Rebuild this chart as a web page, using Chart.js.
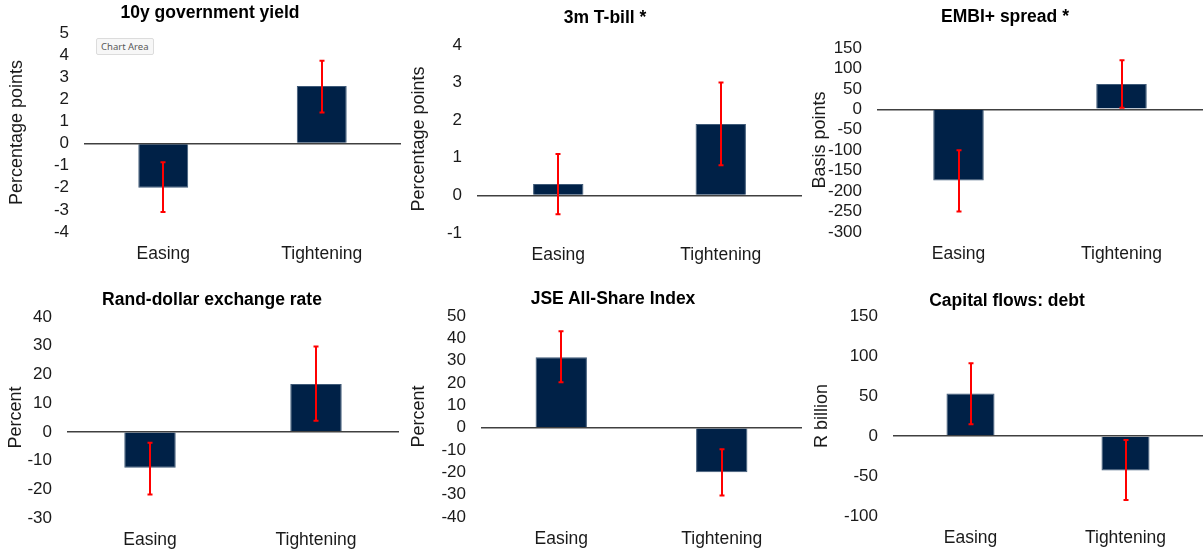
<!DOCTYPE html>
<html>
<head>
<meta charset="utf-8">
<title>Asset price responses to monetary policy cycles</title>
<script src="https://cdn.jsdelivr.net/npm/chart.js@4.4.1/dist/chart.umd.min.js"></script>
<style>
  html, body { margin: 0; padding: 0; background: #ffffff; }
  body { width: 1203px; height: 552px; position: relative; overflow: hidden;
         font-family: "Liberation Sans", Arial, sans-serif; }
  canvas { position: absolute; }
  .title { position: absolute; transform: translate(-50%, -50%); white-space: nowrap;
           font-weight: bold; font-size: 17.5px; color: #000; }
  .tip { position: absolute; left: 96px; top: 38px; padding: 1px 4px; z-index: 5;
         font-family: "Noto Sans", sans-serif; font-size: 9.5px; color: #595959;
         background: #f7f7f7; border: 1px solid #dcdcdc; border-radius: 2px; }
</style>
</head>
<body>
<div class="tip">Chart Area</div>
<script>
// Shared categories
const categories = ['Easing', 'Tightening'];

// 10y government yield (percentage points)
const yieldTicks = [-4, -3, -2, -1, 0, 1, 2, 3, 4, 5];
const yieldValues = [-2.0, 2.6];
const yieldLow = [-3.1, 1.4];
const yieldHigh = [-0.85, 3.75];

// 3m T-bill (percentage points)
const tbillTicks = [-1, 0, 1, 2, 3, 4];
const tbillValues = [0.3, 1.9];
const tbillLow = [-0.5, 0.8];
const tbillHigh = [1.1, 3.0];

// EMBI+ spread (basis points)
const embiTicks = [-300, -250, -200, -150, -100, -50, 0, 50, 100, 150];
const embiValues = [-174, 62];
const embiLow = [-250, 4];
const embiHigh = [-100, 120];

// Rand-dollar exchange rate (percent)
const randTicks = [-30, -20, -10, 0, 10, 20, 30, 40];
const randValues = [-12.5, 16.7];
const randLow = [-21.8, 3.9];
const randHigh = [-3.8, 29.7];

// JSE All-Share Index (percent)
const jseTicks = [-40, -30, -20, -10, 0, 10, 20, 30, 40, 50];
const jseValues = [31.5, -20.0];
const jseLow = [20.3, -30.4];
const jseHigh = [43.2, -9.7];

// Capital flows: debt (R billion)
const flowTicks = [-100, -50, 0, 50, 100, 150];
const flowValues = [53, -43];
const flowLow = [14.6, -80];
const flowHigh = [91, -5];

const panels = [
  { title: '10y government yield', unit: 'Percentage points', ticks: yieldTicks, values: yieldValues, low: yieldLow, high: yieldHigh },
  { title: '3m T-bill *', unit: 'Percentage points', ticks: tbillTicks, values: tbillValues, low: tbillLow, high: tbillHigh },
  { title: 'EMBI+ spread *', unit: 'Basis points', ticks: embiTicks, values: embiValues, low: embiLow, high: embiHigh },
  { title: 'Rand-dollar exchange rate', unit: 'Percent', ticks: randTicks, values: randValues, low: randLow, high: randHigh },
  { title: 'JSE All-Share Index', unit: 'Percent', ticks: jseTicks, values: jseValues, low: jseLow, high: jseHigh },
  { title: 'Capital flows: debt', unit: 'R billion', ticks: flowTicks, values: flowValues, low: flowLow, high: flowHigh }
];

// Page placement of each small chart: canvas box, plot box edges, title centre
const frames = [
  { x0: 0,   y0: 0,   h: 276, left: 84,  right: 401,  top: 33,  bottom: 232, tx: 210,  ty: 12,  unitPad: 6.3,  bar: 0.315 },
  { x0: 400, y0: 0,   h: 276, left: 477, right: 802,  top: 45,  bottom: 233, tx: 605,  ty: 17,  unitPad: 7.8,  bar: 0.31 },
  { x0: 800, y0: 0,   h: 276, left: 877, right: 1203, top: 48,  bottom: 232, tx: 1005, ty: 16,  unitPad: 9.0,  bar: 0.31 },
  { x0: 0,   y0: 270, h: 282, left: 67,  right: 399,  top: 317, bottom: 518, tx: 212,  ty: 299, unitPad: 5.6,  bar: 0.31 },
  { x0: 400, y0: 270, h: 282, left: 481, right: 802,  top: 316, bottom: 517, tx: 613,  ty: 298, unitPad: 8.0,  bar: 0.32 },
  { x0: 800, y0: 270, h: 282, left: 893, right: 1203, top: 316, bottom: 516, tx: 1007, ty: 300, unitPad: 11.5, bar: 0.31 }
];

const XAXIS_H = 34;

// Red whiskers from each dataset's errLow / errHigh arrays
const errorBars = {
  id: 'errorBars',
  afterDatasetsDraw(chart) {
    const { ctx } = chart;
    const yScale = chart.scales.y;
    chart.data.datasets.forEach((ds, di) => {
      const meta = chart.getDatasetMeta(di);
      meta.data.forEach((bar, i) => {
        const yLo = yScale.getPixelForValue(ds.errLow[i]);
        const yHi = yScale.getPixelForValue(ds.errHigh[i]);
        const x = Math.round(bar.x);
        const cap = 2.5;
        ctx.save();
        ctx.strokeStyle = '#ff0000';
        ctx.lineWidth = 2;
        ctx.beginPath();
        ctx.moveTo(x, yLo); ctx.lineTo(x, yHi);
        ctx.moveTo(x - cap, yLo); ctx.lineTo(x + cap, yLo);
        ctx.moveTo(x - cap, yHi); ctx.lineTo(x + cap, yHi);
        ctx.stroke();
        ctx.restore();
      });
    });
  }
};

panels.forEach((p, k) => {
  const f = frames[k];
  const canvas = document.createElement('canvas');
  const w = f.right - f.x0;
  canvas.width = w;
  canvas.height = f.h;
  canvas.style.left = f.x0 + 'px';
  canvas.style.top = f.y0 + 'px';
  canvas.style.width = w + 'px';
  canvas.style.height = f.h + 'px';
  document.body.appendChild(canvas);

  const t = document.createElement('div');
  t.className = 'title';
  t.textContent = p.title;
  t.style.left = f.tx + 'px';
  t.style.top = f.ty + 'px';
  document.body.appendChild(t);

  const tickMin = p.ticks[0];
  const tickMax = p.ticks[p.ticks.length - 1];

  new Chart(canvas, {
    type: 'bar',
    data: {
      labels: categories,
      datasets: [{
        data: p.values,
        errLow: p.low,
        errHigh: p.high,
        backgroundColor: '#002147',
        borderColor: '#3f5a78',
        borderWidth: 1,
        barPercentage: 1,
        categoryPercentage: f.bar
      }]
    },
    options: {
      responsive: false,
      animation: false,
      events: [],
      layout: {
        padding: {
          left: 0,
          right: 0,
          top: f.top - f.y0,
          bottom: f.h - (f.bottom - f.y0) - XAXIS_H
        }
      },
      plugins: { legend: { display: false }, tooltip: { enabled: false }, title: { display: false } },
      scales: {
        x: {
          grid: { display: false, drawTicks: false },
          border: { display: false },
          ticks: { color: '#1a1a1a', padding: 12, font: { family: 'Liberation Sans', size: 17.5 } },
          afterFit(scale) { scale.height = XAXIS_H; }
        },
        y: {
          min: tickMin,
          max: tickMax,
          border: { display: false },
          grid: {
            drawTicks: false,
            color: (c) => (c.tick && c.tick.value === 0 ? '#404040' : 'rgba(0,0,0,0)'),
            lineWidth: 1.5
          },
          afterBuildTicks(scale) { scale.ticks = p.ticks.map((v) => ({ value: v })); },
          ticks: {
            autoSkip: false,
            padding: 15,
            color: '#1a1a1a',
            font: { family: 'Liberation Sans', size: 17 },
            callback: (v) => String(v)
          },
          title: {
            display: true,
            text: p.unit,
            color: '#1a1a1a',
            padding: { top: f.unitPad, bottom: 0 },
            font: { family: 'Liberation Sans', size: 18 }
          },
          afterFit(scale) { scale.width = f.left - f.x0; }
        }
      }
    },
    plugins: [errorBars]
  });
});
</script>
</body>
</html>
